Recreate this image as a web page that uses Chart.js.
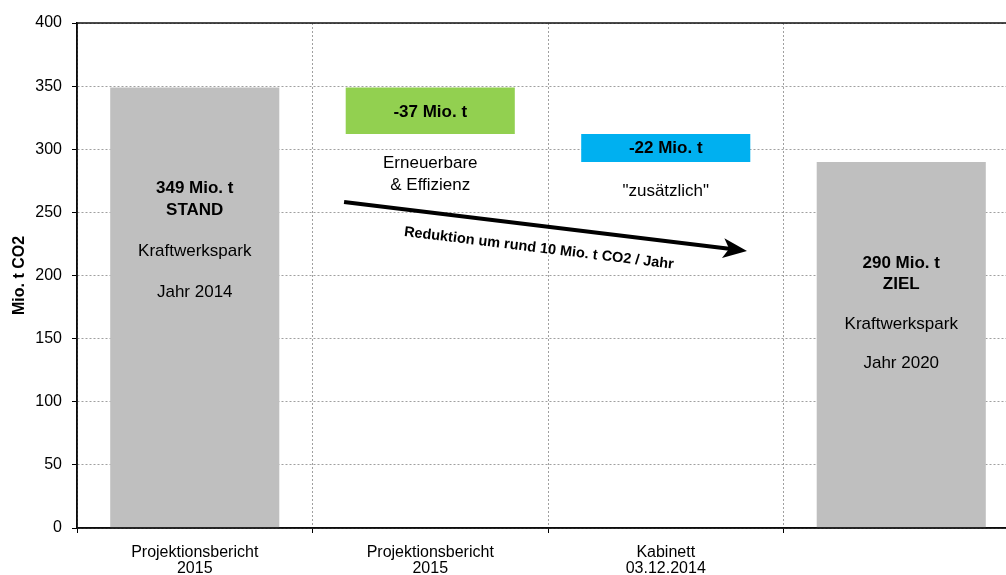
<!DOCTYPE html>
<html>
<head>
<meta charset="utf-8">
<script src="https://cdn.jsdelivr.net/npm/chart.js@4.4.1/dist/chart.umd.min.js"></script>
<style>
  html, body { margin: 0; padding: 0; background: #fff; overflow: hidden; width: 1006px; height: 575px; }
  #wrap { position: absolute; left: 0; top: 0; width: 1020px; height: 575px; }
</style>
</head>
<body>
<div id="wrap"><canvas id="c"></canvas></div>
<script>
// Categories along the x axis (multi-line labels)
const categories = [
  ['Projektionsbericht', '2015'],
  ['Projektionsbericht', '2015'],
  ['Kabinett', '03.12.2014'],
  ''
];
// Bar extents in Mio. t CO2: floating bars run from barLow to barHigh
const barLow  = [0, 312, 290, 0];
const barHigh = [349, 349, 312, 290];
// Value axis
const yMin = 0;
const yMax = 400;
const yStep = 50;

const barColors = ['#BFBFBF', '#92D050', '#00B0F0', '#BFBFBF'];
const FONT = '"Liberation Sans", Arial, Helvetica, sans-serif';

const stand = barHigh[0];
const ziel = barHigh[3];
const cutRenewables = barHigh[1] - barLow[1];
const cutExtra = barHigh[2] - barLow[2];

// Text placed inside / next to the bars, anchored in axis units (category index, value)
const notes = [
  { i: 0, v: 269,   text: stand + ' Mio. t', bold: true },
  { i: 0, v: 251.7, text: 'STAND', bold: true },
  { i: 0, v: 219.2, text: 'Kraftwerkspark', bold: false },
  { i: 0, v: 187,   text: 'Jahr 2014', bold: false },
  { i: 1, v: (barHigh[1] + barLow[1]) / 2 - 1, text: '-' + cutRenewables + ' Mio. t', bold: true },
  { i: 1, v: 289,   text: 'Erneuerbare', bold: false },
  { i: 1, v: 271.5, text: '& Effizienz', bold: false },
  { i: 2, v: (barHigh[2] + barLow[2]) / 2 - 0.5, text: '-' + cutExtra + ' Mio. t', bold: true },
  { i: 2, v: 266.5, text: '"zusätzlich"', bold: false },
  { i: 3, v: 209.7, text: ziel + ' Mio. t', bold: true },
  { i: 3, v: 193.1, text: 'ZIEL', bold: true },
  { i: 3, v: 161.4, text: 'Kraftwerkspark', bold: false },
  { i: 3, v: 130.5, text: 'Jahr 2020', bold: false }
];

// Trend arrow, endpoints in axis units
const arrowFrom = { i: 0.634, v: 258.2 };
const arrowTo   = { i: 2.345, v: 219.4 };
const arrowText = 'Reduktion um rund 10 Mio. t CO2 / Jahr';

const annotations = {
  id: 'annotations',
  afterDatasetsDraw(chart) {
    const { ctx, scales: { x, y } } = chart;
    ctx.save();
    ctx.fillStyle = '#000';
    ctx.textAlign = 'center';
    ctx.textBaseline = 'middle';
    notes.forEach(n => {
      ctx.font = (n.bold ? 'bold ' : '') + '17px ' + FONT;
      ctx.fillText(n.text, x.getPixelForValue(n.i), y.getPixelForValue(n.v));
    });

    // arrow
    const x1 = x.getPixelForValue(arrowFrom.i), y1 = y.getPixelForValue(arrowFrom.v);
    const x2 = x.getPixelForValue(arrowTo.i),   y2 = y.getPixelForValue(arrowTo.v);
    const ang = Math.atan2(y2 - y1, x2 - x1);
    const headLen = 24, headHalf = 10;
    const bx = x2 - headLen * Math.cos(ang) * 0.75;
    const by = y2 - headLen * Math.sin(ang) * 0.75;
    ctx.strokeStyle = '#000';
    ctx.lineWidth = 4;
    ctx.lineCap = 'butt';
    ctx.beginPath();
    ctx.moveTo(x1, y1);
    ctx.lineTo(bx, by);
    ctx.stroke();
    ctx.beginPath();
    const hx = x2 - headLen * Math.cos(ang), hy = y2 - headLen * Math.sin(ang);
    ctx.moveTo(x2, y2);
    ctx.lineTo(hx + headHalf * Math.sin(ang), hy - headHalf * Math.cos(ang));
    ctx.lineTo(bx, by);
    ctx.lineTo(hx - headHalf * Math.sin(ang), hy + headHalf * Math.cos(ang));
    ctx.closePath();
    ctx.fill();

    // rotated caption under the arrow
    const mx = (x1 + x2) / 2, my = (y1 + y2) / 2;
    const off = 22;
    ctx.translate(mx - off * Math.sin(ang) - 4, my + off * Math.cos(ang));
    ctx.rotate(ang);
    ctx.font = 'bold 14.5px ' + FONT;
    ctx.fillText(arrowText, 0, 0);
    ctx.restore();
  },
  afterDraw(chart) {
    // solid frame lines: top edge, value axis and category axis
    const { ctx, chartArea: a } = chart;
    ctx.save();
    ctx.strokeStyle = '#111';
    ctx.lineWidth = 1.5;
    ctx.beginPath();
    ctx.moveTo(a.left, a.top);
    ctx.lineTo(a.right, a.top);
    ctx.moveTo(a.left, a.bottom);
    ctx.lineTo(a.right, a.bottom);
    ctx.stroke();
    ctx.lineWidth = 1.5;
    ctx.beginPath();
    ctx.moveTo(a.left, a.top);
    ctx.lineTo(a.left, a.bottom);
    ctx.stroke();
    ctx.restore();
  }
};

new Chart(document.getElementById('c'), {
  type: 'bar',
  data: {
    labels: categories,
    datasets: [{
      data: barLow.map((lo, k) => [lo, barHigh[k]]),
      backgroundColor: barColors,
      borderWidth: 0,
      barPercentage: 0.718,
      categoryPercentage: 1
    }]
  },
  options: {
    responsive: true,
    maintainAspectRatio: false,
    animation: false,
    layout: { padding: { top: 23, right: 1, bottom: 0, left: 0 } },
    plugins: { legend: { display: false }, tooltip: { enabled: false } },
    scales: {
      x: {
        afterFit(s) { s.height = 47; },
        grid: {
          color: '#a0a0a0',
          tickColor: '#000',
          tickLength: 5,
          tickWidth: 1,
          offset: true
        },
        border: { display: true, color: '#000', width: 1.5, dash: [2, 2] },
        ticks: {
          color: '#000',
          padding: 12,
          font: { family: FONT, size: 16, lineHeight: 1.0 },
          maxRotation: 0,
          autoSkip: false
        }
      },
      y: {
        min: yMin,
        max: yMax,
        afterFit(s) { s.width = 77; },
        grid: {
          color: '#a0a0a0',
          tickColor: '#000',
          tickLength: 5,
          tickWidth: 1
        },
        border: { display: true, color: '#000', width: 1.5, dash: [2, 2] },
        ticks: {
          stepSize: yStep,
          color: '#000',
          padding: 10,
          font: { family: FONT, size: 16 }
        },
        title: {
          display: true,
          text: 'Mio. t CO2',
          color: '#000',
          font: { family: FONT, size: 16, weight: 'bold' },
          padding: { top: 10, bottom: 0 }
        }
      }
    }
  },
  plugins: [annotations]
});
</script>
</body>
</html>
